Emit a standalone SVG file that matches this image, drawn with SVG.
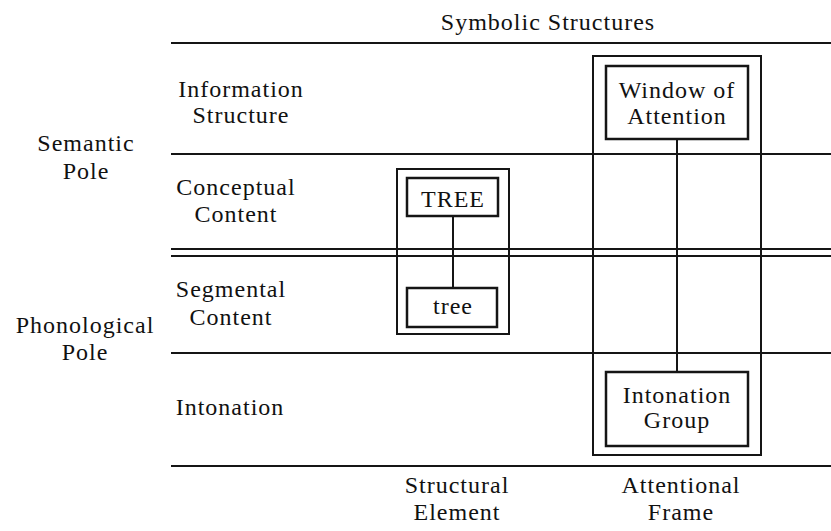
<svg xmlns="http://www.w3.org/2000/svg" width="831" height="531" viewBox="0 0 831 531">
  <style>
    text { font-size: 24px; letter-spacing: 1px; fill: #111; text-anchor: middle; }
    .rule { stroke: #151515; stroke-width: 2; fill: none; }
    .frame { stroke: #151515; stroke-width: 2; fill: none; }
    .box { stroke: #151515; stroke-width: 2.5; fill: #fff; }
    .link { stroke: #151515; stroke-width: 2; fill: none; }
  </style>
  <rect width="831" height="531" fill="#fff"/>

  <g font-family="Liberation Serif, Tinos, DejaVu Serif, Times New Roman, serif">
  <!-- Header -->
  <text x="548" y="30">Symbolic Structures</text>

  <!-- Row separators -->
  <g id="rows">
    <line class="rule" x1="171" y1="43" x2="831" y2="43"/>
    <line class="rule" x1="171" y1="154" x2="831" y2="154"/>
    <line class="rule" x1="171" y1="249" x2="831" y2="249"/>
    <line class="rule" x1="171" y1="256" x2="831" y2="256"/>
    <line class="rule" x1="171" y1="353" x2="831" y2="353"/>
    <line class="rule" x1="171" y1="466" x2="831" y2="466"/>
  </g>

  <!-- Pole labels -->
  <g id="semantic-pole">
    <text x="86" y="151">Semantic</text>
    <text x="86" y="179">Pole</text>
  </g>
  <g id="phonological-pole">
    <text x="85" y="333">Phonological</text>
    <text x="85" y="360">Pole</text>
  </g>

  <!-- Row labels -->
  <g id="row-information-structure">
    <text x="241" y="97">Information</text>
    <text x="241" y="123">Structure</text>
  </g>
  <g id="row-conceptual-content">
    <text x="236" y="195">Conceptual</text>
    <text x="236" y="222">Content</text>
  </g>
  <g id="row-segmental-content">
    <text x="231" y="297">Segmental</text>
    <text x="231" y="325">Content</text>
  </g>
  <g id="row-intonation">
    <text x="230" y="415">Intonation</text>
  </g>

  <!-- Column frames -->
  <g id="structural-element">
    <rect class="frame" x="397" y="169" width="112" height="165"/>
    <text x="457" y="493">Structural</text>
    <text x="457" y="520">Element</text>
  </g>
  <g id="attentional-frame">
    <rect class="frame" x="593" y="56" width="168" height="399"/>
    <text x="681" y="493">Attentional</text>
    <text x="681" y="520">Frame</text>
  </g>

  <!-- Connectors -->
  <g id="connectors">
    <line class="link" x1="453" y1="216" x2="453" y2="288"/>
    <line class="link" x1="677" y1="139" x2="677" y2="372"/>
  </g>

  <!-- Nodes -->
  <g id="node-TREE">
    <rect class="box" x="407" y="178" width="91" height="38"/>
    <text x="453" y="207">TREE</text>
  </g>
  <g id="node-tree">
    <rect class="box" x="407" y="288" width="90" height="39"/>
    <text x="453" y="314">tree</text>
  </g>
  <g id="node-window">
    <rect class="box" x="606" y="66" width="142" height="73"/>
    <text x="677" y="98">Window of</text>
    <text x="677" y="124">Attention</text>
  </g>
  <g id="node-intonation-group">
    <rect class="box" x="606" y="372" width="142" height="74"/>
    <text x="677" y="403">Intonation</text>
    <text x="677" y="428">Group</text>
  </g>
  </g>
</svg>
